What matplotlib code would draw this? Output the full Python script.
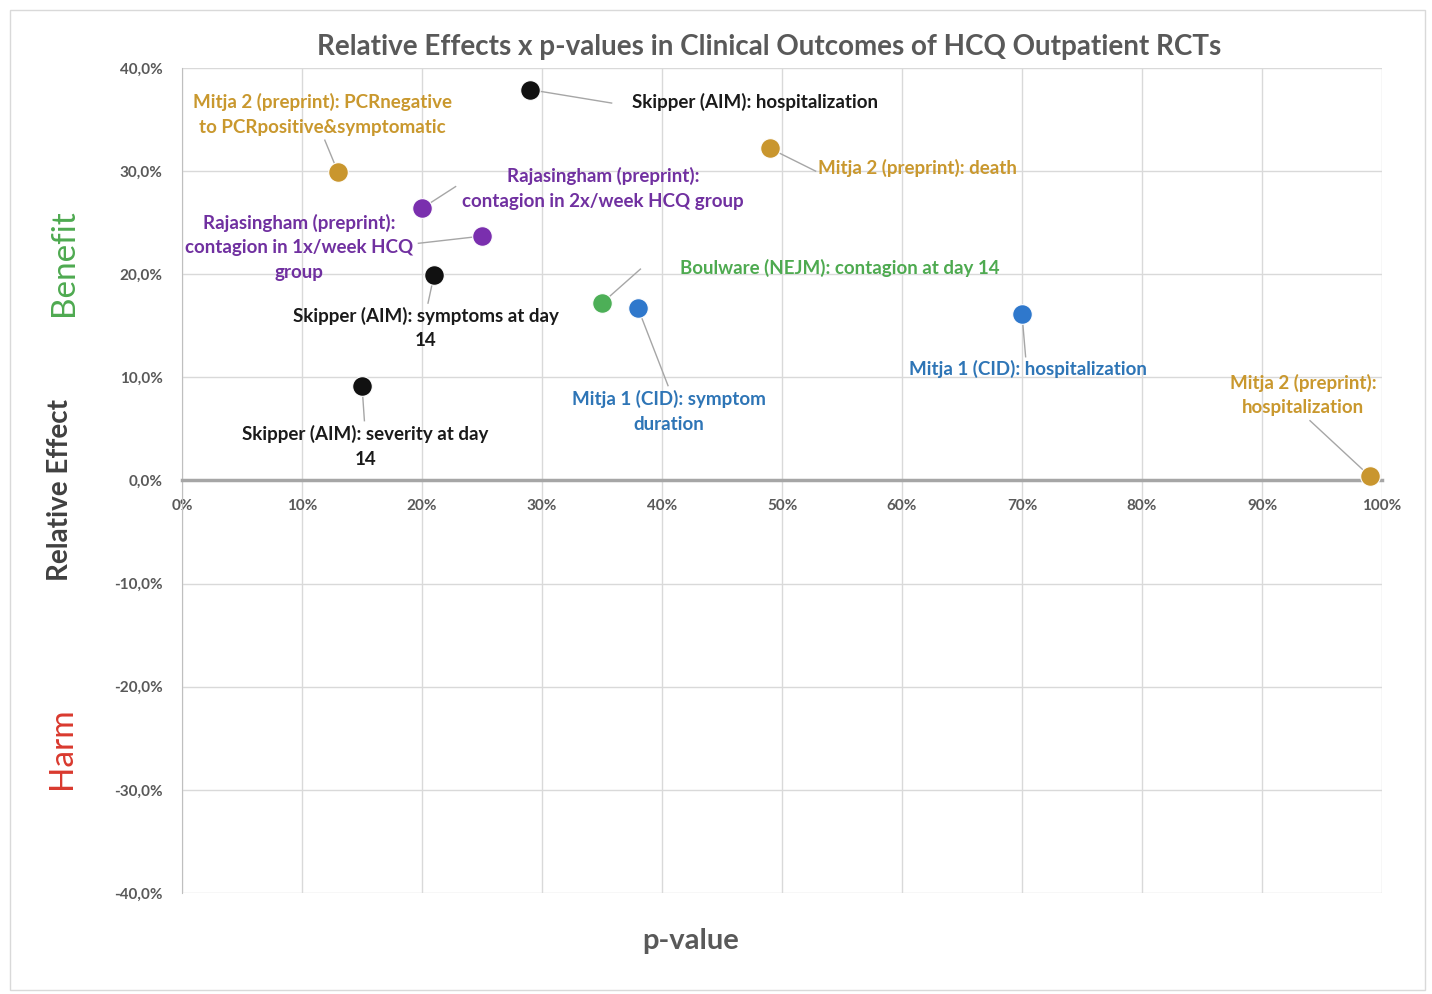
import matplotlib
matplotlib.use("Agg")
from matplotlib import pyplot as plt
from matplotlib.ticker import FuncFormatter
from matplotlib.patches import Rectangle

plt.rcParams['font.family'] = ['Lato', 'DejaVu Sans']

# p-value (%) and relative effect (%) for each outcome
labels = [
    "Skipper (AIM): hospitalization",
    "Mitja 2 (preprint): PCRnegative\nto PCRpositive&symptomatic",
    "Mitja 2 (preprint): death",
    "Rajasingham (preprint):\ncontagion in 2x/week HCQ group",
    "Rajasingham (preprint):\ncontagion in 1x/week HCQ\ngroup",
    "Skipper (AIM): symptoms at day\n14",
    "Boulware (NEJM): contagion at day 14",
    "Mitja 1 (CID): symptom\nduration",
    "Mitja 1 (CID): hospitalization",
    "Mitja 2 (preprint):\nhospitalization",
    "Skipper (AIM): severity at day\n14",
]
p_values = [29, 13, 49, 20, 25, 21, 35, 38, 70, 99, 15]
rel_effects = [37.9, 29.9, 32.2, 26.4, 23.7, 19.9, 17.2, 16.7, 16.1, 0.4, 9.2]
groups = ["skipper", "mitja2", "mitja2", "raja", "raja", "skipper",
          "boulware", "mitja1", "mitja1", "mitja2", "skipper"]

dot_colors = {"skipper": "#111111", "mitja2": "#C9962E", "raja": "#7A2FAE",
              "boulware": "#4DAF57", "mitja1": "#2F78CC"}
text_colors = {"skipper": "#1a1a1a", "mitja2": "#C9982E", "raja": "#7030A0",
               "boulware": "#4EAA50", "mitja1": "#2E75B6"}

# label placement (data coords), alignment, and leader-line end
label_pos = [(37.5, 36.7), (11.7, 35.5), (53.0, 30.3), (35.1, 28.3), (9.75, 22.6),
             (20.3, 14.8), (41.5, 20.6), (40.6, 6.7), (70.5, 10.8), (93.4, 8.3),
             (15.3, 3.3)]
label_ha = ["left", "center", "left", "center", "center", "center", "left",
            "center", "center", "center", "center"]
line_end = [(35.8, 36.6), (11.9, 33.0), (52.8, 30.0), (22.8, 28.5), (19.7, 23.0),
            (20.5, 17.2), (38.2, 20.5), (40.5, 9.2), (70.3, 12.0), (94.0, 5.8),
            (15.2, 5.8)]

fig = plt.figure(figsize=(14.32, 9.94), dpi=100)
ax = fig.add_axes([0.1271, 0.1016, 0.838, 0.830])

ax.set_xlim(0, 100)
ax.set_ylim(-40, 40)
ax.set_xticks(range(0, 101, 10))
ax.set_yticks(range(-40, 41, 10))
ax.grid(True, color="#D9D9D9", linewidth=1.0)
ax.set_axisbelow(True)
for s in ["top", "right"]:
    ax.spines[s].set_visible(False)
ax.spines["left"].set_color("#BFBFBF")
# horizontal axis sits at zero, as in the spreadsheet chart
ax.spines["bottom"].set_position(("data", 0))
ax.spines["bottom"].set_color("#A6A6A6")
ax.spines["bottom"].set_linewidth(2.5)
ax.tick_params(axis="y", length=0, pad=14)
ax.tick_params(axis="x", length=0, pad=13)
ax.xaxis.set_major_formatter(FuncFormatter(lambda v, _: f"{int(v)}%"))
ax.yaxis.set_major_formatter(FuncFormatter(lambda v, _: f"{v:.1f}%".replace(".", ",")))
for lab in ax.get_xticklabels() + ax.get_yticklabels():
    lab.set_fontsize(11)
    lab.set_fontweight("bold")
    lab.set_color("#595959")

for i in range(len(labels)):
    g = groups[i]
    ax.plot([p_values[i], line_end[i][0]], [rel_effects[i], line_end[i][1]],
            color="#A6A6A6", linewidth=1.0, zorder=2)
    ax.scatter(p_values[i], rel_effects[i], s=200, color=dot_colors[g],
               edgecolor="white", linewidth=0.8, zorder=3)
    ax.text(label_pos[i][0], label_pos[i][1], labels[i], ha=label_ha[i], va="center",
            fontsize=13.5, fontweight="bold", color=text_colors[g],
            linespacing=1.55, zorder=4)

fig.text(0.537, 0.953, "Relative Effects x p-values in Clinical Outcomes of HCQ Outpatient RCTs",
         ha="center", va="center", fontsize=20, fontweight="bold", color="#595959")
fig.text(0.482, 0.053, "p-value", ha="center", va="center", fontsize=21,
         fontweight="bold", color="#595959")
fig.text(0.042, 0.507, "Relative Effect", rotation=90, ha="center", va="center",
         fontsize=20, fontweight="bold", color="#404040")
fig.text(0.045, 0.736, "Benefit", rotation=90, ha="center", va="center",
         fontsize=24, color="#4EAA50")
fig.text(0.043, 0.247, "Harm", rotation=90, ha="center", va="center",
         fontsize=24, color="#D9392E")

fig.patches.append(Rectangle((0.007, 0.004), 0.988, 0.986, transform=fig.transFigure,
                             fill=False, edgecolor="#D9D9D9", linewidth=1.0))

fig.savefig("out.png", dpi=100, facecolor="white")
